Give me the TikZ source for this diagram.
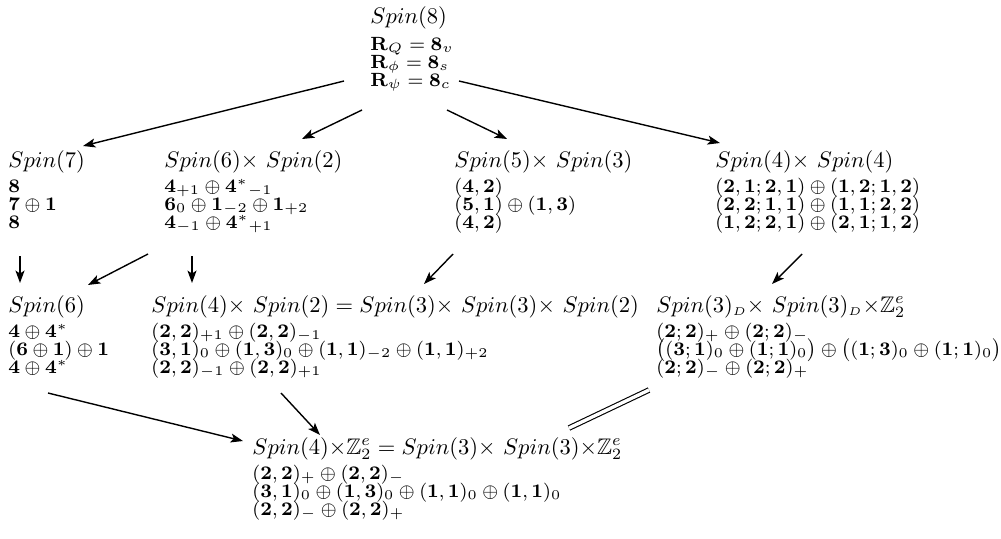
\documentclass[tikz,border=0pt]{standalone}
\usepackage{fix-cm}
\usepackage{amsmath,amssymb}
\usetikzlibrary{arrows.meta}

\tikzset{
  grp/.style={anchor=base west, inner sep=0pt, font=\fontsize{10}{12}\selectfont},
  rep/.style={anchor=base west, inner sep=0pt, font=\fontsize{8.5}{10}\selectfont},
  arr/.style={-{Stealth[length=5.5pt,width=4pt,inset=1.3pt]}, line width=0.62pt},
  eqv/.style={double, double distance=1.5pt, line width=0.5pt}
}
\newcommand{\bb}[1]{\mathbf{#1}}

\begin{document}
\begin{tikzpicture}[x=0.444pt, y=-0.444pt]
\useasboundingbox (0,0) rectangle (1001,538);

% Spin(8)
\node[grp] (s8)  at (370,24) {$Spin(8)$};
\node[rep] (s8a) at (370,50) {$\bb{R}_Q=\bb{8}_v$};
\node[rep] (s8b) at (370,68) {$\bb{R}_\phi=\bb{8}_s$};
\node[rep] (s8c) at (370,86) {$\bb{R}_\psi=\bb{8}_c$};

% Spin(7)
\node[grp] (s7)  at (8,167) {$Spin(7)$};
\node[rep] (s7a) at (8,192) {$\bb{8}$};
\node[rep] (s7b) at (8,210) {$\bb{7}\oplus\bb{1}$};
\node[rep] (s7c) at (8,228) {$\bb{8}$};

% Spin(6) x Spin(2)
\node[grp] (s62)  at (164,167) {$Spin(6)$$\times$ $Spin(2)$};
\node[rep] (s62a) at (164,192) {$\bb{4}_{+1}\oplus{\bb{4}^*}_{-1}$};
\node[rep] (s62b) at (164,210) {$\bb{6}_0\oplus\bb{1}_{-2}\oplus\bb{1}_{+2}$};
\node[rep] (s62c) at (164,228) {$\bb{4}_{-1}\oplus{\bb{4}^*}_{+1}$};

% Spin(5) x Spin(3)
\node[grp] (s53)  at (454,167) {$Spin(5)$$\times$ $Spin(3)$};
\node[rep] (s53a) at (454,192) {$(\bb{4},\bb{2})$};
\node[rep] (s53b) at (454,210) {$(\bb{5},\bb{1})\oplus(\bb{1},\bb{3})$};
\node[rep] (s53c) at (454,228) {$(\bb{4},\bb{2})$};

% Spin(4) x Spin(4)
\node[grp] (s44)  at (715,167) {$Spin(4)$$\times$ $Spin(4)$};
\node[rep] (s44a) at (715,192) {$(\bb{2},\bb{1};\bb{2},\bb{1})\oplus(\bb{1},\bb{2};\bb{1},\bb{2})$};
\node[rep] (s44b) at (715,210) {$(\bb{2},\bb{2};\bb{1},\bb{1})\oplus(\bb{1},\bb{1};\bb{2},\bb{2})$};
\node[rep] (s44c) at (715,228) {$(\bb{1},\bb{2};\bb{2},\bb{1})\oplus(\bb{2},\bb{1};\bb{1},\bb{2})$};

% Spin(6)
\node[grp] (s6)  at (8,312) {$Spin(6)$};
\node[rep] (s6a) at (8,337) {$\bb{4}\oplus\bb{4}^*$};
\node[rep] (s6b) at (8,355) {$(\bb{6}\oplus\bb{1})\oplus\bb{1}$};
\node[rep] (s6c) at (8,373) {$\bb{4}\oplus\bb{4}^*$};

% Spin(4) x Spin(2)
\node[grp] (s42)  at (151,312) {$Spin(4)$$\times$ $Spin(2) = Spin(3)$$\times$ $Spin(3)$$\times$ $Spin(2)$};
\node[rep] (s42a) at (151,337) {$(\bb{2},\bb{2})_{+1}\oplus(\bb{2},\bb{2})_{-1}$};
\node[rep] (s42b) at (151,355) {$(\bb{3},\bb{1})_0\oplus(\bb{1},\bb{3})_0\oplus(\bb{1},\bb{1})_{-2}\oplus(\bb{1},\bb{1})_{+2}$};
\node[rep] (s42c) at (151,373) {$(\bb{2},\bb{2})_{-1}\oplus(\bb{2},\bb{2})_{+1}$};

% Spin(3)_D x Spin(3)_D x Z_2^e
\node[grp] (s33)  at (656,312) {$Spin(3)_{\scriptscriptstyle D}$$\times$ $Spin(3)_{\scriptscriptstyle D}{\times}\mathbb{Z}_2^e$};
\node[rep] (s33a) at (656,337) {$(\bb{2};\bb{2})_+\oplus(\bb{2};\bb{2})_-$};
\node[rep] (s33b) at (656,355) {$\bigl((\bb{3};\bb{1})_0\oplus(\bb{1};\bb{1})_0\bigr)\oplus\bigl((\bb{1};\bb{3})_0\oplus(\bb{1};\bb{1})_0\bigr)$};
\node[rep] (s33c) at (656,373) {$(\bb{2};\bb{2})_-\oplus(\bb{2};\bb{2})_+$};

% Spin(4) x Z_2^e
\node[grp] (s4z)  at (252,454) {$Spin(4){\times}\mathbb{Z}_2^e = Spin(3)$$\times$ $Spin(3){\times}\mathbb{Z}_2^e$};
\node[rep] (s4za) at (252,479) {$(\bb{2},\bb{2})_+\oplus(\bb{2},\bb{2})_-$};
\node[rep] (s4zb) at (252,497) {$(\bb{3},\bb{1})_0\oplus(\bb{1},\bb{3})_0\oplus(\bb{1},\bb{1})_0\oplus(\bb{1},\bb{1})_0$};
\node[rep] (s4zc) at (252,515) {$(\bb{2},\bb{2})_-\oplus(\bb{2},\bb{2})_+$};

% connector end points
\coordinate (a1s) at (344,81);  \coordinate (a1e) at (83,146);
\coordinate (a2s) at (362,110); \coordinate (a2e) at (302,139);
\coordinate (a3s) at (447,110); \coordinate (a3e) at (507,139);
\coordinate (a4s) at (459,81);  \coordinate (a4e) at (720,143);
\coordinate (b1s) at (20,256);  \coordinate (b1e) at (20,283);
\coordinate (b2s) at (148,254); \coordinate (b2e) at (88,285);
\coordinate (b3s) at (192,256); \coordinate (b3e) at (192,283);
\coordinate (b4s) at (453,254); \coordinate (b4e) at (424,284);
\coordinate (b5s) at (802,254); \coordinate (b5e) at (772,284);
\coordinate (c1s) at (48,393);  \coordinate (c1e) at (243,441);
\coordinate (c2s) at (281,393); \coordinate (c2e) at (320,435);
\coordinate (c3s) at (649,390); \coordinate (c3e) at (569,428);

\draw[arr] (a1s) -- (a1e);
\draw[arr] (a2s) -- (a2e);
\draw[arr] (a3s) -- (a3e);
\draw[arr] (a4s) -- (a4e);
\draw[arr] (b1s) -- (b1e);
\draw[arr] (b2s) -- (b2e);
\draw[arr] (b3s) -- (b3e);
\draw[arr] (b4s) -- (b4e);
\draw[arr] (b5s) -- (b5e);
\draw[arr] (c1s) -- (c1e);
\draw[arr] (c2s) -- (c2e);
\draw[eqv] (c3s) -- (c3e);
\end{tikzpicture}
\end{document}
